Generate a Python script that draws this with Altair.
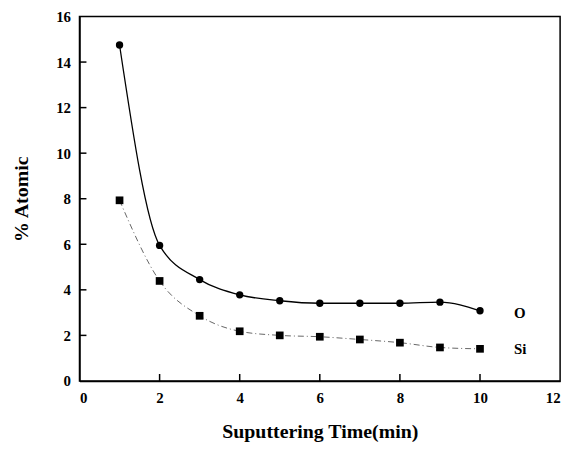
import altair as alt
import pandas as pd

time = [1, 2, 3, 4, 5, 6, 7, 8, 9, 10]
o_values = [14.75, 5.95, 4.45, 3.78, 3.52, 3.41, 3.41, 3.41, 3.46, 3.08]
si_values = [7.93, 4.39, 2.86, 2.18, 2.00, 1.94, 1.82, 1.68, 1.47, 1.41]
label_text = ["O", "Si"]
label_x = [10.85, 10.85]
label_y = [3.0, 1.4]
x_ticks = [0, 2, 4, 6, 8, 10, 12]
y_ticks = [0, 2, 4, 6, 8, 10, 12, 14, 16]

W, H = 484, 367
TICK = 7
FONT = "Liberation Serif"

o_df = pd.DataFrame({"t": time, "v": o_values})
si_df = pd.DataFrame({"t": time, "v": si_values})
lab_df = pd.DataFrame({"t": label_x, "v": label_y, "s": label_text})
xt_df = pd.DataFrame({"t": [float(v) for v in x_ticks[1:-1]]})
yt_df = pd.DataFrame({"v": [float(v) for v in y_ticks[1:-1]]})

xs = alt.Scale(domain=[0, 12], nice=False, zero=False)
ys = alt.Scale(domain=[0, 16], nice=False)

x_main = alt.X("t:Q", scale=xs, axis=alt.Axis(values=x_ticks, title="Suputtering Time(min)",
                                              tickSize=0, labelPadding=10, titlePadding=16, format="d"))
y_main = alt.Y("v:Q", scale=ys, axis=alt.Axis(values=y_ticks, title="% Atomic",
                                              tickSize=0, labelPadding=9, titlePadding=24, format="d"))

o_line = alt.Chart(o_df).mark_line(interpolate="monotone", color="black", strokeWidth=1.3).encode(x=x_main, y=y_main)
o_pts = alt.Chart(o_df).mark_point(shape="circle", filled=True, color="black", size=55, opacity=1).encode(x="t:Q", y="v:Q")
si_line = alt.Chart(si_df).mark_line(interpolate="monotone", color="#666666", strokeWidth=1,
                                     strokeDash=[6, 3, 1, 3]).encode(x="t:Q", y="v:Q")
si_pts = alt.Chart(si_df).mark_point(shape="square", filled=True, color="black", size=60, opacity=1).encode(x="t:Q", y="v:Q")
labels = alt.Chart(lab_df).mark_text(font=FONT, fontWeight="bold", fontSize=15, color="black",
                                     align="left", baseline="middle").encode(x="t:Q", y="v:Q", text="s:N")

x_tick_marks = alt.Chart(xt_df).mark_rule(color="black", strokeWidth=1.5).encode(
    x="t:Q", y=alt.value(H), y2=alt.value(H - TICK))
y_tick_marks = alt.Chart(yt_df).mark_rule(color="black", strokeWidth=1.5).encode(
    y="v:Q", x=alt.value(0), x2=alt.value(TICK))

chart = alt.layer(o_line, si_line, o_pts, si_pts, labels, x_tick_marks, y_tick_marks).properties(
    width=W, height=H,
    autosize=alt.AutoSizeParams(type="none"),
    padding={"left": 72, "top": 7, "right": 15, "bottom": 70},
).configure_view(
    stroke="black", strokeWidth=1.5
).configure_axis(
    grid=False, domainColor="black", domainWidth=1.5,
    labelFont=FONT, labelFontWeight="bold", labelFontSize=15, labelColor="black",
    titleFont=FONT, titleFontWeight="bold", titleFontSize=20, titleColor="black",
)

chart.save("out.html", embed_options={"renderer": "svg", "actions": False})
